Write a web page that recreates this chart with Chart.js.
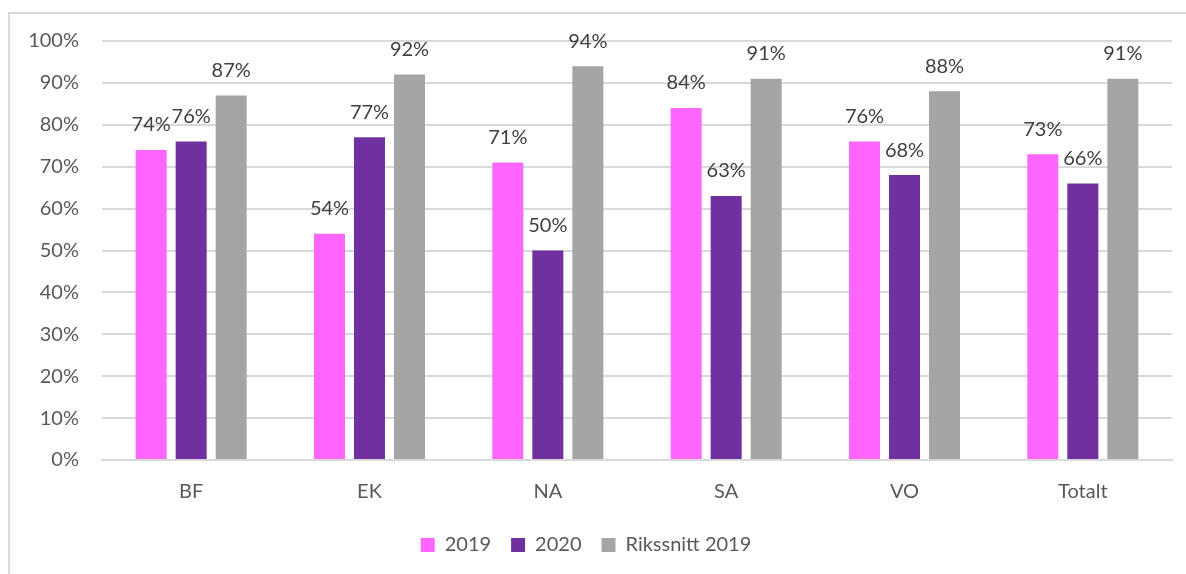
<!DOCTYPE html>
<html>
<head>
<meta charset="utf-8">
<script src="https://cdn.jsdelivr.net/npm/chart.js@4/dist/chart.umd.min.js"></script>
<style>
  html, body { margin: 0; padding: 0; background: #fff; }
  #frame {
    position: absolute; left: 8px; top: 12px; width: 1200px; height: 600px;
    border-left: 2px solid #d9d9d9; border-top: 2px solid #d9d9d9;
  }
  #wrap { position: absolute; left: 0; top: 0; width: 1186px; height: 574px; }
</style>
</head>
<body>
<div id="frame"></div>
<div id="wrap"><canvas id="chart"></canvas></div>
<script>
/* ---- data ---- */
const categories = ['BF', 'EK', 'NA', 'SA', 'VO', 'Totalt'];
const values2019 = [74, 54, 71, 84, 76, 73];
const values2020 = [76, 77, 50, 63, 68, 66];
const valuesRiks = [87, 92, 94, 91, 88, 91];
const yTicks     = [0, 10, 20, 30, 40, 50, 60, 70, 80, 90, 100];

const FONT = 'Lato, "Open Sans", sans-serif';

// draws "74%" etc. above every bar
const barLabels = {
  id: 'barLabels',
  afterDatasetsDraw(chart) {
    const ctx = chart.ctx;
    ctx.save();
    ctx.font = '20px ' + FONT;
    ctx.fillStyle = '#404040';
    ctx.textAlign = 'center';
    ctx.textBaseline = 'middle';
    chart.data.datasets.forEach((ds, i) => {
      chart.getDatasetMeta(i).data.forEach((bar, j) => {
        ctx.fillText(ds.data[j] + '%', bar.x, bar.y - 25);
      });
    });
    ctx.restore();
  }
};

new Chart(document.getElementById('chart'), {
  type: 'bar',
  data: {
    labels: categories,
    datasets: [
      { label: '2019',           data: values2019, backgroundColor: '#FF66FF' },
      { label: '2020',           data: values2020, backgroundColor: '#7030A0' },
      { label: 'Rikssnitt 2019', data: valuesRiks, backgroundColor: '#A5A5A5' },
    ],
  },
  options: {
    responsive: true,
    maintainAspectRatio: false,
    animation: false,
    datasets: { bar: { categoryPercentage: 0.673, barPercentage: 0.775 } },
    layout: { padding: { top: 41, right: 14, bottom: 9, left: 0 } },
    plugins: {
      tooltip: { enabled: false },
      legend: {
        position: 'bottom',
        labels: {
          color: '#595959',
          font: { family: FONT, size: 20 },
          boxWidth: 14,
          boxHeight: 14,
          padding: 20,
        },
      },
    },
    scales: {
      x: {
        grid: { display: false },
        border: { color: '#d9d9d9', width: 2 },
        ticks: { color: '#595959', font: { family: FONT, size: 20 }, padding: 12 },
        afterFit: s => { s.height = 55; },
      },
      y: {
        min: 0,
        max: 100,
        afterBuildTicks: s => { s.ticks = yTicks.map(v => ({ value: v })); },
        afterFit: s => { s.width = 102; },
        grid: { color: '#d9d9d9', lineWidth: 2, drawTicks: false },
        border: { display: false },
        ticks: {
          color: '#595959',
          font: { family: FONT, size: 20 },
          padding: 23,
          callback: v => v + '%',
        },
      },
    },
  },
  plugins: [barLabels],
});
</script>
</body>
</html>
